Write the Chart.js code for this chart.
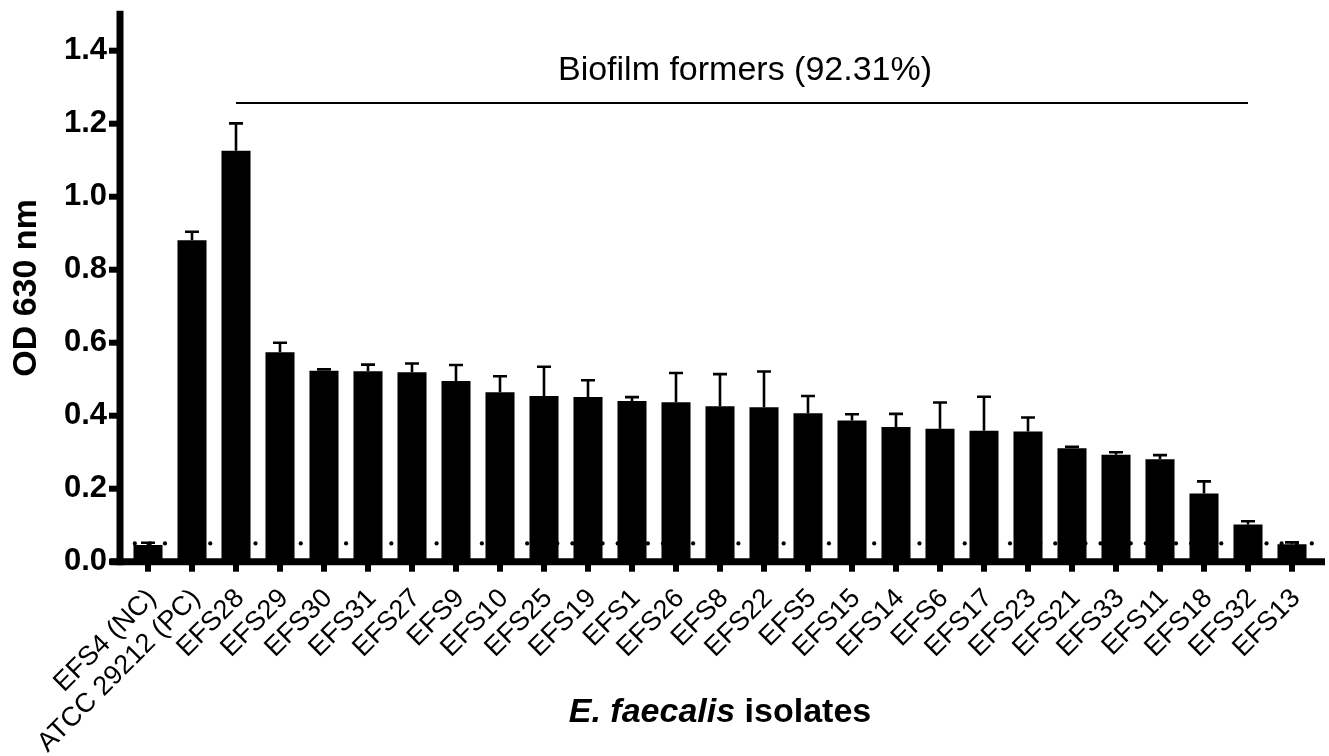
<!DOCTYPE html>
<html><head><meta charset="utf-8">
<script src="https://cdn.jsdelivr.net/npm/chart.js@4.4.1/dist/chart.umd.min.js"></script>
<style>html,body{margin:0;padding:0;background:#fff}#wrap{width:1329px;height:756px}</style>
</head><body><div id="wrap"><canvas id="c" width="1329" height="756"></canvas></div>
<script>
// ---- data ----
const categories = ['EFS4 (NC)','ATCC 29212 (PC)','EFS28','EFS29','EFS30','EFS31','EFS27','EFS9','EFS10','EFS25','EFS19','EFS1','EFS26','EFS8','EFS22','EFS5','EFS15','EFS14','EFS6','EFS17','EFS23','EFS21','EFS33','EFS11','EFS18','EFS32','EFS13'];
const means  = [0.046,0.881,1.126,0.574,0.523,0.522,0.519,0.495,0.464,0.454,0.451,0.440,0.437,0.426,0.423,0.407,0.387,0.369,0.364,0.359,0.357,0.311,0.293,0.281,0.187,0.102,0.048];
const errors = [0.006,0.023,0.075,0.026,0.004,0.018,0.024,0.044,0.044,0.080,0.046,0.011,0.080,0.088,0.098,0.047,0.017,0.036,0.072,0.093,0.038,0.004,0.007,0.011,0.033,0.009,0.005];
const yTickValues = [0,0.2,0.4,0.6,0.8,1.0,1.2,1.4];
const yMax = 1.5;
const cutoffOD = 0.05;
const bracketFrom = 'EFS28';
const bracketTo = 'EFS32';
const bracketLevel = 1.257;
const bracketLabel = 'Biofilm formers (92.31%)';
const yTitle = 'OD 630 nm';
const xTitleItalic = 'E. faecalis';
const xTitleRest = ' isolates';

const FONT = "'Liberation Sans', Arial, Helvetica, sans-serif";

const decor = {
  id: 'decor',
  beforeDatasetsDraw(chart) {
    const {ctx, scales: {x, y}} = chart;
    const step = x.getPixelForValue(1) - x.getPixelForValue(0);
    const x0 = x.getPixelForValue(0) - 0.3 * step;
    const x1 = x.getPixelForValue(categories.length - 1) + 0.45 * step;
    const yp = y.getPixelForValue(cutoffOD);
    const n = 78;
    ctx.save();
    ctx.fillStyle = '#000';
    for (let i = 0; i <= n; i++) {
      ctx.beginPath();
      ctx.arc(x0 + (x1 - x0) * i / n, yp, 2.1, 0, Math.PI * 2);
      ctx.fill();
    }
    ctx.restore();
  },
  afterDatasetsDraw(chart) {
    const {ctx, chartArea, scales: {x, y}} = chart;
    const meta = chart.getDatasetMeta(0);
    ctx.save();
    ctx.strokeStyle = '#000';
    // error bars (upper)
    ctx.lineWidth = 2.6;
    meta.data.forEach((bar, i) => {
      const top = y.getPixelForValue(means[i]);
      const e = y.getPixelForValue(means[i] + errors[i]);
      ctx.beginPath();
      ctx.moveTo(bar.x, top);
      ctx.lineTo(bar.x, e);
      ctx.moveTo(bar.x - 7, e);
      ctx.lineTo(bar.x + 7, e);
      ctx.stroke();
    });
    // axes
    const axX = chartArea.left - 6;
    const axY = y.getPixelForValue(0);
    ctx.lineWidth = 7;
    ctx.lineCap = 'butt';
    ctx.beginPath();
    ctx.moveTo(axX, y.getPixelForValue(yMax) - 3.5);
    ctx.lineTo(axX, axY + 3.5);
    ctx.stroke();
    ctx.beginPath();
    ctx.moveTo(axX - 10, axY);
    ctx.lineTo(chartArea.right + 11, axY);
    ctx.stroke();
    // tick marks
    ctx.lineWidth = 6;
    yTickValues.forEach(v => {
      const p = y.getPixelForValue(v);
      ctx.beginPath();
      ctx.moveTo(axX - 11, p);
      ctx.lineTo(axX, p);
      ctx.stroke();
    });
    categories.forEach((c, i) => {
      const p = x.getPixelForValue(i);
      ctx.beginPath();
      ctx.moveTo(p, axY);
      ctx.lineTo(p, axY + 10);
      ctx.stroke();
    });
    // bracket
    const bx0 = x.getPixelForValue(categories.indexOf(bracketFrom));
    const bx1 = x.getPixelForValue(categories.indexOf(bracketTo));
    const by = y.getPixelForValue(bracketLevel);
    ctx.lineWidth = 2;
    ctx.beginPath();
    ctx.moveTo(bx0, by);
    ctx.lineTo(bx1, by);
    ctx.stroke();
    ctx.fillStyle = '#000';
    ctx.font = '34px ' + FONT;
    ctx.textAlign = 'center';
    ctx.textBaseline = 'alphabetic';
    ctx.fillText(bracketLabel, (bx0 + bx1) / 2 + 3, by - 23);
    // x title (mixed italic)
    ctx.textAlign = 'left';
    const fI = 'italic bold 34px ' + FONT;
    const fB = 'bold 34px ' + FONT;
    ctx.font = fI; const wI = ctx.measureText(xTitleItalic).width;
    ctx.font = fB; const wB = ctx.measureText(xTitleRest).width;
    const cx = (chartArea.left + chartArea.right) / 2;
    const tx = cx - (wI + wB) / 2;
    const ty = 722;
    ctx.font = fI; ctx.fillText(xTitleItalic, tx, ty);
    ctx.font = fB; ctx.fillText(xTitleRest, tx + wI, ty);
    ctx.restore();
  }
};

new Chart(document.getElementById('c'), {
  type: 'bar',
  data: {
    labels: categories,
    datasets: [{
      data: means,
      backgroundColor: '#000',
      borderWidth: 0,
      barPercentage: 0.66,
      categoryPercentage: 1.0
    }]
  },
  options: {
    responsive: false,
    devicePixelRatio: 1,
    animation: false,
    layout: {padding: {top: 14.2, right: 15, left: 0, bottom: 0}},
    plugins: {legend: {display: false}, tooltip: {enabled: false}},
    scales: {
      x: {
        type: 'category',
        offset: true,
        grid: {display: false, drawTicks: false},
        border: {display: false},
        ticks: {
          autoSkip: false, minRotation: 45, maxRotation: 45,
          color: '#000', padding: 21, labelOffset: 4,
          font: {family: FONT, size: 27, weight: 'normal', lineHeight: 1.2}
        },
        afterFit: s => { s.height = 756 - 561.7; s.paddingLeft = 0; s.paddingRight = 0; }
      },
      y: {
        min: 0, max: yMax,
        grid: {display: false, drawTicks: false},
        border: {display: false},
        afterBuildTicks: s => { s.ticks = yTickValues.map(v => ({value: v})); },
        ticks: {
          color: '#000', padding: 19,
          font: {family: FONT, size: 31, weight: 'bold'},
          callback: v => Number(v).toFixed(1)
        },
        title: {
          display: true, text: yTitle, color: '#000',
          font: {family: FONT, size: 34, weight: 'bold', lineHeight: 1.2},
          padding: {top: 6, bottom: 0}
        },
        afterFit: s => { s.width = 126; s.paddingTop = 0; s.paddingBottom = 0; }
      }
    }
  },
  plugins: [decor]
});
</script>
</body></html>
